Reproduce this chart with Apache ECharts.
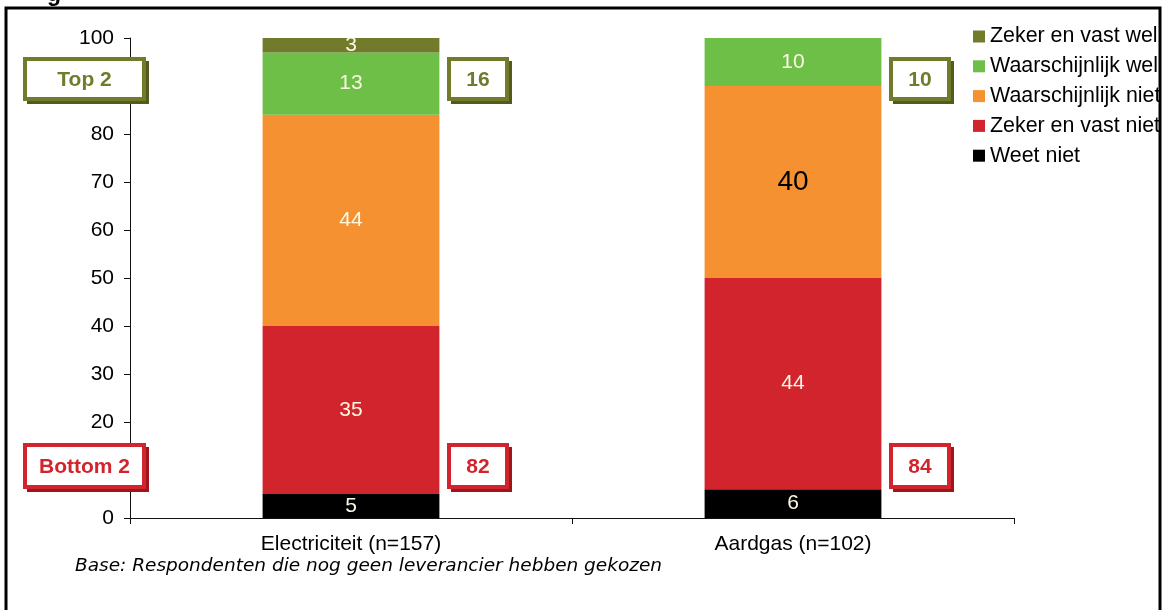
<!DOCTYPE html>
<html>
<head>
<meta charset="utf-8">
<script src="https://cdn.jsdelivr.net/npm/echarts@6/dist/echarts.min.js"></script>
<style>
  html, body { margin: 0; padding: 0; background: #fff; }
  #chart { width: 1168px; height: 610px; }
</style>
</head>
<body>
<div id="chart"></div>
<script>
// Stacked shares (%) per energy type
const categories = ['Electriciteit (n=157)', 'Aardgas (n=102)'];
const weetNiet = [5, 6];
const zekerEnVastNiet = [35, 44];
const waarschijnlijkNiet = [44, 40];
const waarschijnlijkWel = [13, 10];
const zekerEnVastWel = [3, 0];
// Summary boxes
const top2 = [16, 10];
const bottom2 = [82, 84];
const baseNote = 'Base: Respondenten die nog geen leverancier hebben gekozen';

const FONT = '"Liberation Sans", Arial, sans-serif';
const OLIVE = '#717b2b', OLIVE_DARK = '#525a1c';
const RED = '#d2242c', RED_DARK = '#9e161c';
const LABEL_LIGHT = '#fbf8e4';

const seriesDefs = [
  { name: 'Weet niet', data: weetNiet, color: '#000000' },
  { name: 'Zeker en vast niet', data: zekerEnVastNiet, color: RED },
  { name: 'Waarschijnlijk niet', data: waarschijnlijkNiet, color: '#f69131' },
  { name: 'Waarschijnlijk wel', data: waarschijnlijkWel, color: '#6dbf47' },
  { name: 'Zeker en vast wel', data: zekerEnVastWel, color: OLIVE }
];

const chart = echarts.init(document.getElementById('chart'), null, { renderer: 'canvas' });

const series = seriesDefs.map(def => ({
  name: def.name,
  type: 'bar',
  stack: 'total',
  barWidth: '40%',
  itemStyle: { color: def.color },
  label: {
    show: true,
    position: 'inside',
    color: LABEL_LIGHT,
    fontFamily: FONT,
    fontSize: 21,
    formatter: p => (p.value ? String(p.value) : '')
  },
  data: def.data.map((v, i) => {
    // the gas "Waarschijnlijk niet" figure is printed larger and in black
    if (def.name === 'Waarschijnlijk niet' && i === 1) {
      return { value: v, label: { color: '#000', fontSize: 28 } };
    }
    return v;
  })
}));

chart.setOption({
  animation: false,
  backgroundColor: '#fff',
  grid: { left: 130, right: 154, top: 38, bottom: 92 },
  legend: {
    orient: 'vertical',
    left: 973,
    top: 26,
    icon: 'rect',
    itemWidth: 12,
    itemHeight: 12,
    itemGap: 8.8,
    padding: 0,
    selectedMode: false,
    textStyle: { fontFamily: FONT, fontSize: 21.4, color: '#000', lineHeight: 21 },
    data: ['Zeker en vast wel', 'Waarschijnlijk wel', 'Waarschijnlijk niet', 'Zeker en vast niet', 'Weet niet']
  },
  xAxis: {
    type: 'category',
    data: categories,
    axisLine: { lineStyle: { color: '#111', width: 1 } },
    axisTick: { show: true, length: 6, lineStyle: { color: '#111' } },
    axisLabel: { fontFamily: FONT, fontSize: 21, color: '#000', margin: 16 }
  },
  yAxis: {
    type: 'value',
    min: 0,
    max: 100,
    interval: 10,
    splitLine: { show: false },
    axisLine: { show: true, lineStyle: { color: '#111', width: 1 } },
    axisTick: { show: true, length: 6, lineStyle: { color: '#111' } },
    axisLabel: { fontFamily: FONT, fontSize: 21, color: '#000', margin: 16 }
  },
  series: series
});

// Framed summary boxes with a drop shadow
function box(x, y, w, h, text, color, shadow) {
  return [
    { type: 'rect', z: 50, shape: { x: x + 2, y: y + 2, width: w + 1, height: h + 1 }, style: { fill: shadow } },
    { type: 'rect', z: 51, shape: { x: x, y: y, width: w - 2, height: h - 2 }, style: { fill: '#fff', stroke: color, lineWidth: 4 } },
    { type: 'text', z: 52, x: x + (w - 2) / 2, y: y + (h - 2) / 2 + 1,
      style: { text: text, fill: color, font: 'bold 21px ' + FONT, align: 'center', verticalAlign: 'middle' } }
  ];
}

const halfBar = 176 / 2;
const topY = 59, bottomY = 445;
let graphics = [];
graphics = graphics.concat(box(25, topY, 121, 42, 'Top 2', OLIVE, OLIVE_DARK));
graphics = graphics.concat(box(25, bottomY, 121, 44, 'Bottom 2', RED, RED_DARK));
categories.forEach((c, i) => {
  const cx = chart.convertToPixel({ xAxisIndex: 0 }, c);
  const bx = cx + halfBar + 10;
  graphics = graphics.concat(box(bx, topY, 60, 42, String(top2[i]), OLIVE, OLIVE_DARK));
  graphics = graphics.concat(box(bx, bottomY, 60, 44, String(bottom2[i]), RED, RED_DARK));
});

graphics.push(
  { type: 'text', z: 60, left: 75, top: 557,
    style: { text: baseNote, fill: '#000', font: 'italic 18.5px "DejaVu Sans", Verdana, sans-serif' } },
  // trailing glyph of the heading above the frame
  { type: 'text', z: 60, x: 47, y: -5,
    style: { text: 'g', fill: '#000', font: 'bold 23px ' + FONT, verticalAlign: 'middle' } },
  // clip legend text that runs past the frame
  { type: 'rect', z: 90, shape: { x: 1160, y: 0, width: 10, height: 610 }, style: { fill: '#fff' } },
  { type: 'rect', z: 91, shape: { x: 6, y: 8, width: 1154, height: 700 },
    style: { fill: null, stroke: '#000', lineWidth: 3 } }
);

chart.setOption({ graphic: graphics });
</script>
</body>
</html>
